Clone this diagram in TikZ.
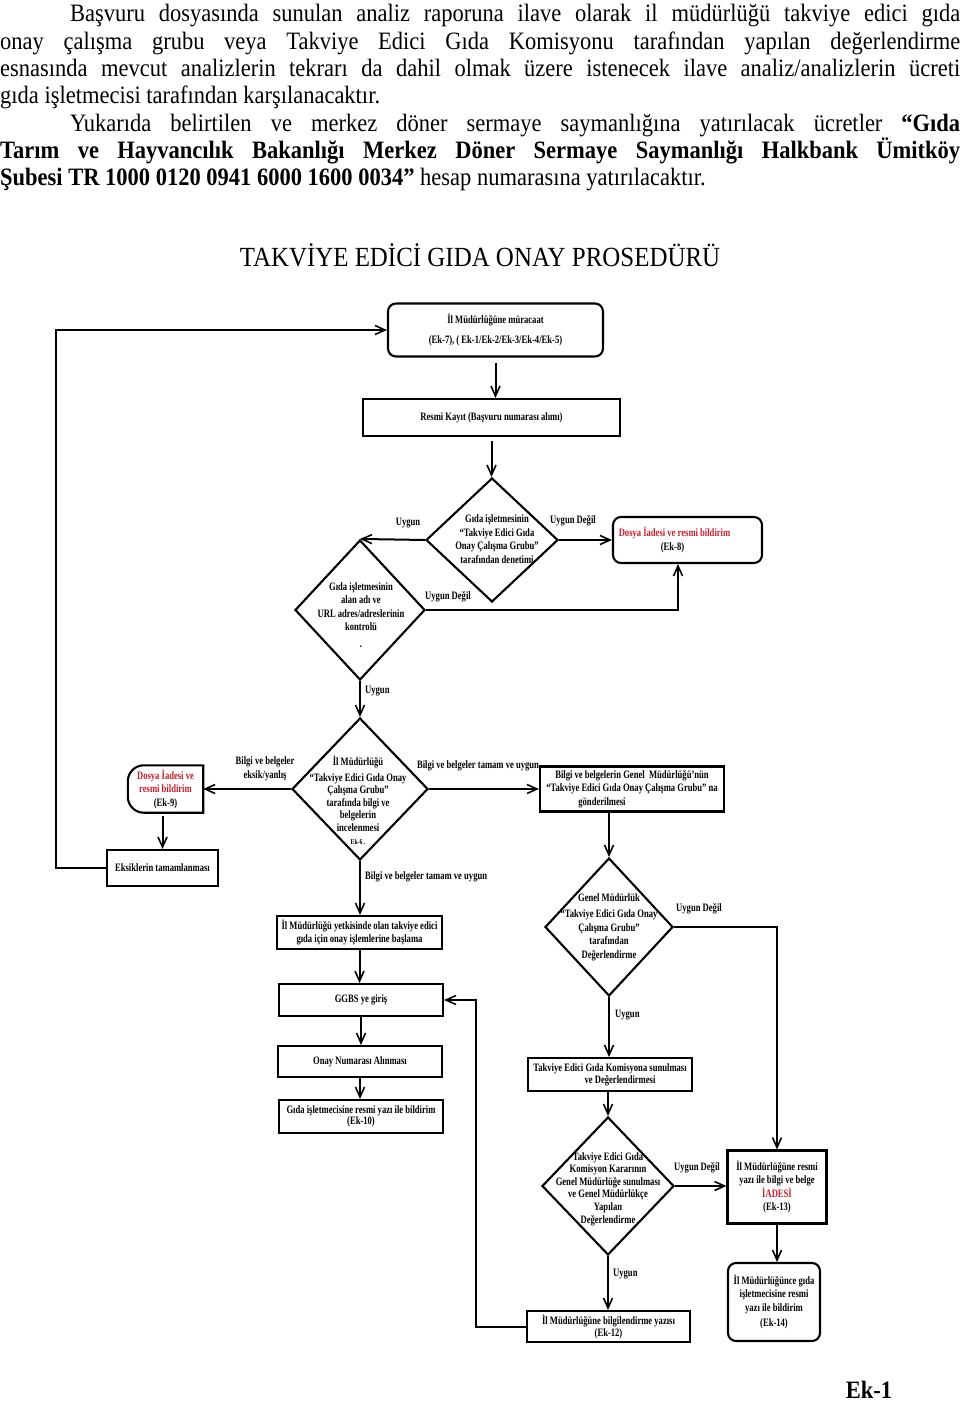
\documentclass[tikz,border=0pt]{standalone}
\usepackage{fontspec}
\setmainfont{Liberation Serif}[FakeStretch=0.9]
\newfontfamily\fcfont{Liberation Serif}[FakeStretch=0.76]
\usetikzlibrary{shapes.geometric,arrows.meta,calc}
\definecolor{redtxt}{RGB}{200,30,45}
\tikzset{
  fc/.style={font=\fcfont\bfseries\fontsize{11.3}{13.5}\selectfont, align=center, inner sep=0pt},
  box/.style={draw, line width=2.1pt, rectangle, fc},
  rbox/.style={box, rounded corners=8pt},
  dia/.style={draw, line width=2.1pt, diamond, inner sep=0pt},
  ln/.style={line width=2pt},
  arr/.style={ln, -{Straight Barb[length=10pt,width=9pt,line width=1.6pt]}},
}
\begin{document}
\begin{tikzpicture}[x=1pt,y=-1pt]
\useasboundingbox (0,0) rectangle (960,1404);
\fill[white] (0,0) rectangle (960,1404);

% body text
\node[anchor=base west, text width=960pt, align=justify, inner sep=0pt,
      font=\fontsize{25}{27.3}\selectfont] (para) at (0,22) {%
\tolerance=9999\hspace*{70pt}Başvuru dosyasında sunulan analiz raporuna ilave olarak il müdürlüğü takviye edici gıda\linebreak
onay çalışma grubu veya Takviye Edici Gıda Komisyonu tarafından yapılan değerlendirme\linebreak
esnasında mevcut analizlerin tekrarı da dahil olmak üzere istenecek ilave analiz/analizlerin ücreti\linebreak
gıda işletmecisi tarafından karşılanacaktır.\par
\hspace*{70pt}Yukarıda belirtilen ve merkez döner sermaye saymanlığına yatırılacak ücretler \textbf{“Gıda\linebreak
Tarım ve Hayvancılık Bakanlığı Merkez Döner Sermaye Saymanlığı Halkbank Ümitköy\linebreak
Şubesi TR 1000 0120 0941 6000 1600 0034”} hesap numarasına yatırılacaktır.};

\node[font=\fontsize{27.7}{30}\selectfont, inner sep=0pt] (title) at (480,255) {TAKVİYE EDİCİ GIDA ONAY PROSEDÜRÜ};

% boxes
\node[rbox, minimum width=215pt, minimum height=53pt] (A) at (495.5,330) {İl Müdürlüğüne müracaat\\[7pt](Ek-7), ( Ek-1/Ek-2/Ek-3/Ek-4/Ek-5)};
\node[box, minimum width=257pt, minimum height=37pt] (B) at (491.5,417.5) {Resmi Kayıt (Başvuru numarası alımı)};

\node[dia, minimum width=132pt, minimum height=124pt] (D1) at (492,540) {};
\node[fc] (D1t) at (497,539) {Gıda işletmesinin\\“Takviye Edici Gıda\\Onay Çalışma Grubu”\\tarafından denetimi};

\node[rbox, minimum width=149pt, minimum height=46pt] (C) at (687.5,540) {\textcolor{redtxt}{Dosya İadesi ve resmi bildirim}\hspace*{26pt}\\(Ek-8)\hspace*{30pt}};

\node[dia, minimum width=130pt, minimum height=140pt] (D2) at (360,610) {};
\node[fc] (D2t) at (361,615) {Gıda işletmesinin\\alan adı ve\\URL adres/adreslerinin\\kontrolü\\[3pt].};

\node[dia, minimum width=136pt, minimum height=142pt] (D3) at (360,789) {};
\node[fc, font=\fcfont\bfseries\fontsize{11.3}{12.6}\selectfont] (D3t) at (358,800) {İl Müdürlüğü\\[3pt]“Takviye Edici Gıda Onay\\Çalışma Grubu”\\tarafında bilgi ve\\belgelerin\\incelenmesi\\{\fontsize{7.5}{8}\selectfont Ek-6 .}};

\node[fc, minimum width=75pt, minimum height=47pt] (E) at (165.5,789) {\textcolor{redtxt}{Dosya İadesi ve}\\\textcolor{redtxt}{resmi bildirim}\\(Ek-9)};
\draw[line width=2.1pt, rounded corners=16pt] (E.north) -- (E.north west) -- (E.south west) -- (E.south) [sharp corners] -- (E.south east) -- (E.north east) -- cycle;

\node[box, minimum width=111pt, minimum height=36pt] (F) at (162.5,868) {Eksiklerin tamamlanması};

\node[box, minimum width=184pt, minimum height=45pt] (G) at (632,789) {Bilgi ve belgelerin Genel\ \ Müdürlüğü’nün\\“Takviye Edici Gıda Onay Çalışma Grubu” na\\gönderilmesi\hspace*{60pt}};

\node[dia, minimum width=128pt, minimum height=138pt] (D4) at (609,927) {};
\node[fc] (D4t) at (609,927) {Genel Müdürlük\\[3pt]“Takviye Edici Gıda Onay\\Çalışma Grubu”\\tarafından\\Değerlendirme};

\node[box, minimum width=164pt, minimum height=33pt, font=\fcfont\bfseries\fontsize{11.3}{12}\selectfont] (I) at (610,1074.5) {Takviye Edici Gıda Komisyona sunulması\\\hspace*{20pt}ve Değerlendirmesi};

\node[dia, minimum width=132pt, minimum height=138pt] (D5) at (608,1186) {};
\node[fc, font=\fcfont\bfseries\fontsize{11.3}{12.6}\selectfont] (D5t) at (608,1189) {Takviye Edici Gıda\\Komisyon Kararının\\Genel Müdürlüğe sunulması\\ve Genel Müdürlükçe\\Yapılan\\Değerlendirme};

\node[box, minimum width=99pt, minimum height=73pt] (H) at (777,1187) {İl Müdürlüğüne resmi\\yazı ile bilgi ve belge\\\textcolor{redtxt}{İADESİ}\\(Ek-13)};
\node[rbox, minimum width=92pt, minimum height=78pt] (J) at (774,1302) {İl Müdürlüğünce gıda\\işletmecisine resmi\\yazı ile bildirim\\[2pt](Ek-14)};
\node[box, minimum width=163pt, minimum height=31pt, font=\fcfont\bfseries\fontsize{11.3}{12}\selectfont] (K) at (608.5,1326.5) {İl Müdürlüğüne bilgilendirme yazısı\\(Ek-12)};

\node[box, minimum width=165pt, minimum height=33pt, font=\fcfont\bfseries\fontsize{11.3}{12.5}\selectfont] (L) at (359.5,932.5) {İl Müdürlüğü yetkisinde olan takviye edici\\gıda için onay işlemlerine başlama};
\node[box, minimum width=164pt, minimum height=32pt] (M) at (361,1000) {GGBS ye giriş};
\node[box, minimum width=164pt, minimum height=31pt] (N) at (360,1061.5) {Onay Numarası Alınması};
\node[box, minimum width=164pt, minimum height=33pt, font=\fcfont\bfseries\fontsize{11.3}{10.5}\selectfont] (O) at (361,1116.5) {Gıda işletmecisine resmi yazı ile bildirim\\(Ek-10)};

% connectors
\draw[arr, shorten <=5pt] (A.south) -- (A.south |- B.north);
\draw[arr, shorten <=4pt] (B.south) -- (B.south |- D1.north);
\draw[arr] (D1.west) -- (D2.north);
\draw[arr] (D1.east) -- (C.west);
\draw[arr] (D2.east) -| ($(C.south)+(-9.5,0)$);
\draw[arr] (D2.south) -- (D3.north);
\draw[arr] (D3.west) -- (E.east);
\draw[arr, shorten <=3pt] (E.south -| F.north) -- (F.north);
\draw[arr] (F.west) -- ++(-50,0) |- (A.west);
\draw[arr] (D3.east) -- (G.west);
\draw[arr] (G.south -| D4.north) -- (D4.north);
\draw[arr] (D4.east) -| (H.north);
\draw[arr] (D4.south) -- (D4.south |- I.north);
\draw[arr] (I.south -| D5.north) -- (D5.north);
\draw[arr] (D5.east) -- (D5.east -| H.west);
\draw[arr] (D5.south) -- (D5.south |- K.north);
\draw[arr] (H.south) -- (H.south |- J.north);
\draw[arr] (K.west) -- ++(-50,0) |- (M.east);
\draw[arr] (D3.south) -- (D3.south |- L.north);
\draw[arr] (L.south) -- (L.south |- M.north);
\draw[arr] (M.south) -- (M.south |- N.north);
\draw[arr] (N.south) -- (N.south |- O.north);

% labels
\node[fc] (l1) at (408,523) {Uygun};
\node[fc] (l2) at (573,521) {Uygun Değil};
\node[fc] (l3) at (448,597) {Uygun Değil};
\node[fc, anchor=west] (l4) at (365,691) {Uygun};
\node[fc] (l5) at (265,769) {Bilgi ve belgeler\\eksik/yanlış};
\node[fc] (l6) at (478,766) {Bilgi ve belgeler tamam ve uygun};
\node[fc, anchor=west] (l7) at (365,877) {Bilgi ve belgeler tamam ve uygun};
\node[fc] (l8) at (699,909) {Uygun Değil};
\node[fc, anchor=west] (l9) at (615,1015) {Uygun};
\node[fc] (l10) at (697,1168) {Uygun Değil};
\node[fc, anchor=west] (l11) at (613,1274) {Uygun};

\node[font=\bfseries\fontsize{25}{27}\selectfont, inner sep=0pt] (ek1) at (869,1390) {Ek-1};
\end{tikzpicture}
\end{document}
